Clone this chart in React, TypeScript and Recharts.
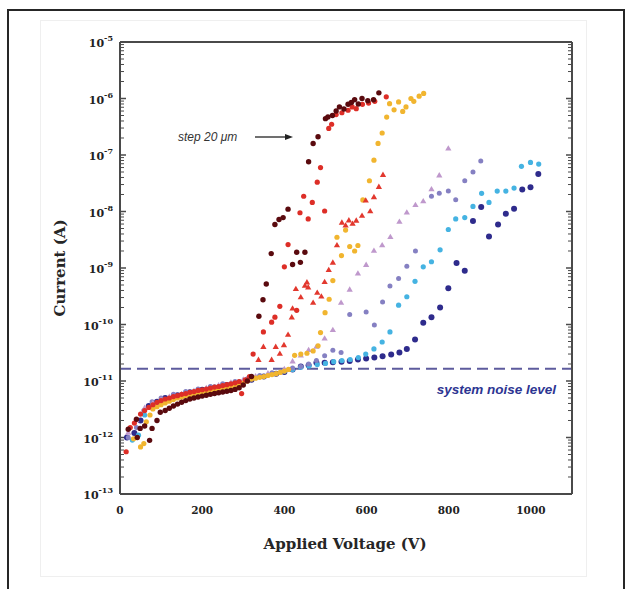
import React from 'react'
import { ScatterChart, Scatter, XAxis, YAxis, ReferenceLine } from 'recharts'

// step 20 um, dark red
const maroonV = [20, 40, 42, 49, 60, 72, 78, 90, 98, 110, 120, 130, 140, 150, 160, 170, 180, 190, 200, 210, 220, 230, 240, 250, 260, 270, 280, 290, 300, 310, 320, 338, 348, 356, 368, 377, 387, 397, 409, 420, 430, 439, 450, 459, 470, 482, 500, 506, 517, 526, 534, 545, 555, 563, 571, 580, 589, 603, 617, 630]
const maroonI = [1.4e-12, 2.1e-12, 1.0e-12, 1.45e-12, 1.6e-12, 8.9e-13, 1.45e-12, 2.0e-12, 2.8e-12,
    3.0e-12, 3.3e-12, 3.6e-12, 3.9e-12, 4.2e-12, 4.5e-12, 4.8e-12, 5.0e-12, 5.2e-12, 5.4e-12, 5.6e-12, 5.8e-12, 6.0e-12, 6.2e-12, 6.4e-12, 6.6e-12, 6.8e-12, 7.1e-12, 7.6e-12, 8.5e-12, 1.0e-11, 1.2e-11,
    1.4e-10, 2.75e-10, 5.2e-10, 1.8e-9, 5.9e-9, 7.2e-9, 7.8e-9, 1.1e-8,
    1.15e-9, 1.9e-9, 1.26e-9, 1.9e-9,
    7.6e-8, 1.6e-7, 2.1e-7,
    4.4e-7, 4.7e-7, 5.0e-7, 6.0e-7, 7.1e-7, 6.5e-7, 7.9e-7, 8.5e-7, 9.5e-7, 8.0e-7, 1.0e-6, 9.1e-7, 9.5e-7, 1.26e-6]

const redFastV = [15, 25, 35, 50, 60, 70, 80, 90, 100, 110, 120, 130, 140, 150, 160, 170, 180, 190, 200, 210, 220, 230, 240, 250, 260, 270, 280, 290, 296, 305, 315, 324, 349, 369, 377, 389, 400, 409, 430, 438, 447, 458, 468, 480, 488, 498, 508, 515, 526, 540, 555, 565, 575, 590, 605, 620, 648]
const redFastI = [5.6e-13, 1.5e-12, 1.8e-12,
    2.6e-12, 3.0e-12, 3.4e-12, 3.8e-12, 4.2e-12, 4.5e-12, 4.8e-12, 5.0e-12, 5.3e-12, 5.5e-12, 5.8e-12, 6.0e-12, 6.3e-12, 6.5e-12, 6.8e-12, 7.0e-12, 7.2e-12, 7.5e-12, 7.8e-12, 8.0e-12, 8.3e-12, 8.6e-12, 8.9e-12, 9.3e-12, 9.8e-12,
    6.0e-12, 1.05e-11, 1.2e-11,
    3.0e-11, 7.4e-11, 1.1e-10, 1.35e-10, 2.1e-10,
    1.05e-9, 2.6e-9, 1.78e-10, 9.5e-9, 1.86e-8, 7.4e-9, 1.45e-8, 3.3e-8, 6.0e-8, 1.02e-8,
    2.95e-7, 3.5e-7, 5.2e-7, 5.6e-7, 6.2e-7, 7.1e-7, 6.6e-7, 7.9e-7, 8.3e-7, 8.9e-7, 1.07e-6]

const redSlowV = [337, 349, 369, 379, 389, 399, 409, 418, 420, 428, 440, 450, 455, 458, 470, 480, 490, 498, 508, 518, 528, 540, 549, 557, 566, 575, 589, 598, 609, 618, 630, 640]
const redSlowI = [2.34e-11, 3.98e-11, 2.34e-11, 3.98e-11, 3.0e-11, 4.27e-11, 6.5e-11, 1.32e-10, 1.9e-10, 4.2e-10, 3.0e-10, 4.8e-10, 5.5e-10, 4.5e-10, 2.4e-10, 3.6e-10, 3.1e-10, 5.6e-10, 9.1e-10, 1.23e-9, 2.5e-9, 6.3e-9, 5.6e-9, 6.9e-9, 6.0e-9, 6.8e-9, 8.3e-9, 1.55e-8, 1.0e-8, 1.78e-8, 2.7e-8, 4.4e-8]

const yellowV = [33, 50, 58, 64, 73, 80, 90, 100, 110, 120, 130, 140, 150, 160, 170, 180, 190, 200, 210, 220, 230, 240, 250, 260, 270, 280, 290, 300, 310, 320, 330, 340, 350, 360, 370, 380, 390, 400, 410, 425, 440, 455, 470, 482, 488, 499, 509, 518, 528, 539, 549, 559, 571, 579, 591, 607, 618, 628, 638, 649, 656, 667, 678, 688, 696, 708, 715, 728, 739]
const yellowI = [9.5e-13, 6.8e-13, 7.8e-13, 1.9e-12, 2.5e-12,
    3.2e-12, 3.5e-12, 3.8e-12, 4.1e-12, 4.4e-12, 4.7e-12, 5.0e-12, 5.2e-12, 5.5e-12, 5.7e-12, 6.0e-12, 6.2e-12, 6.4e-12, 6.6e-12, 6.8e-12, 7.0e-12, 7.2e-12, 7.5e-12, 7.7e-12, 8.0e-12, 8.3e-12, 8.7e-12, 9.2e-12, 1.0e-11, 1.08e-11, 1.12e-11, 1.16e-11, 1.2e-11, 1.25e-11, 1.3e-11, 1.35e-11, 1.42e-11, 1.5e-11, 1.6e-11,
    2.85e-11, 3.0e-11, 3.1e-11, 3.4e-11, 4.2e-11, 7.2e-11, 1.62e-10, 2.8e-10, 6.0e-10, 3.5e-9, 1.66e-9, 4.7e-9, 2.4e-9, 2.0e-9, 2.5e-9, 1.6e-8, 3.5e-8, 8.1e-8, 1.6e-7, 2.45e-7, 4.7e-7, 8.1e-7, 6.3e-7, 8.7e-7, 5.9e-7, 7.1e-7, 1.0e-6, 8.9e-7, 1.1e-6, 1.23e-6]

const violetV = [20, 40, 60, 80, 100, 120, 150, 180, 210, 240, 270, 300, 330, 360, 400, 420, 440, 459, 478, 498, 518, 538, 559, 579, 599, 618, 638, 658, 680, 698, 719, 738, 758, 777, 799]
const violetI = [1.2e-12, 2.0e-12, 3.3e-12, 4.0e-12, 4.6e-12, 5.2e-12, 5.8e-12, 6.6e-12, 7.4e-12, 8.3e-12, 9.3e-12, 1.05e-11, 1.2e-11, 1.35e-11, 1.6e-11,
    2.2e-11, 2.8e-11, 3.5e-11, 4.0e-11, 5.6e-11, 7.9e-11, 2.4e-10, 4.1e-10, 7.9e-10, 1.12e-9,
    2.0e-9, 2.5e-9, 3.5e-9, 6.5e-9, 9.5e-9, 1.29e-8, 1.5e-8, 2.45e-8, 4.3e-8, 1.29e-7]

const periV = [20, 40, 58, 78, 100, 130, 160, 190, 220, 250, 280, 310, 340, 370, 400, 420, 440, 459, 478, 498, 518, 538, 559, 599, 619, 639, 657, 678, 698, 719, 758, 777, 799, 817, 839, 859, 878]
const periI = [1.0e-12, 1.5e-12, 3.0e-12, 4.3e-12, 5.0e-12, 5.8e-12, 6.5e-12, 7.2e-12, 8.0e-12, 8.9e-12, 9.8e-12, 1.1e-11, 1.25e-11, 1.4e-11, 1.55e-11,
    1.7e-11, 1.8e-11, 2.0e-11, 2.3e-11, 2.8e-11, 3.5e-11, 3.2e-11, 1.5e-10,
    1.66e-10, 9.8e-11, 2.5e-10, 4.8e-10, 6.5e-10, 1.07e-9, 2.0e-9,
    1.86e-8, 2.1e-8, 2.3e-8, 1.62e-8, 3.5e-8, 5.0e-8, 7.8e-8]

const skyV = [30, 45, 60, 80, 100, 130, 160, 190, 220, 250, 280, 310, 340, 370, 400, 420, 440, 460, 480, 500, 520, 540, 560, 580, 598, 618, 638, 657, 678, 698, 718, 738, 758, 779, 799, 817, 839, 859, 880, 898, 918, 939, 959, 977, 999, 1019]
const skyI = [9.0e-13, 1.1e-12, 2.5e-12, 3.8e-12, 4.6e-12, 5.5e-12, 6.3e-12, 7.0e-12, 7.8e-12, 8.6e-12, 9.5e-12, 1.05e-11, 1.2e-11, 1.35e-11, 1.5e-11,
    1.6e-11, 1.75e-11, 1.85e-11, 1.95e-11, 2.05e-11, 2.2e-11, 2.3e-11, 2.4e-11, 2.6e-11,
    3.0e-11, 3.7e-11, 4.9e-11, 7.4e-11, 2.2e-10, 3.1e-10, 5.8e-10, 1.05e-9, 1.29e-9, 2.1e-9,
    4.8e-9, 7.4e-9, 7.8e-9, 1.23e-8, 2.1e-8, 1.45e-8, 2.3e-8, 2.3e-8, 2.6e-8, 6.3e-8, 7.4e-8, 6.9e-8]

const navyV = [17, 35, 50, 70, 90, 110, 140, 170, 200, 230, 260, 290, 320, 350, 380, 400, 420, 440, 459, 478, 498, 518, 539, 559, 579, 599, 619, 639, 660, 680, 698, 718, 738, 758, 779, 799, 819, 839, 859, 879, 898, 920, 939, 959, 979, 999, 1018]
const navyI = [1.0e-12, 1.2e-12, 2.0e-12, 3.6e-12, 4.3e-12, 5.0e-12, 5.6e-12, 6.3e-12, 7.0e-12, 7.7e-12, 8.5e-12, 9.4e-12, 1.05e-11, 1.2e-11, 1.35e-11, 1.45e-11,
    1.6e-11, 1.8e-11, 1.9e-11, 2.1e-11, 2.1e-11, 2.15e-11, 2.2e-11, 2.25e-11, 2.4e-11, 2.5e-11,
    2.6e-11, 2.75e-11, 2.95e-11, 3.2e-11, 3.7e-11, 5.4e-11, 1.07e-10, 1.35e-10, 2.0e-10, 4.4e-10,
    1.23e-9, 8.9e-10, 6.8e-9, 1.2e-8, 3.6e-9, 5.9e-9, 9.1e-9, 1.12e-8, 2.45e-8, 2.7e-8, 4.6e-8]

const noiseLevel = 1.65e-11

const xTicks = [0, 200, 400, 600, 800, 1000]
const yTicks = [1e-13, 1e-12, 1e-11, 1e-10, 1e-9, 1e-8, 1e-7, 1e-6, 1e-5]
const minorSteps = [2, 3, 4, 5, 6, 7, 8, 9]
const yMinor = yTicks.slice(0, -1).flatMap(d => minorSteps.map(m => m * d))

const serif = 'DejaVu Serif'
const axisColor = '#4a4a4a'

const toPoints = (v: number[], i: number[]) => v.map((x, k) => ({ v: x, i: i[k] }))

// marker shapes (ZAxis range is ignored without a z dataKey)
const dot = (r: number) => (p: any) => <circle cx={p.cx} cy={p.cy} r={r} fill={p.fill} />
const tri = (s: number) => (p: any) => (
    <path d={`M${p.cx},${p.cy - s} L${p.cx + s * 0.87},${p.cy + s / 2} L${p.cx - s * 0.87},${p.cy + s / 2} Z`} fill={p.fill} />
)

const NoTick = () => <g />

const YLabel = (p: any) => {
    const exp = Math.round(Math.log10(p.payload.value))
    return (
        <text x={p.x} y={p.y + 5} textAnchor="end" fontFamily={serif} fontWeight="bold" fontSize={11} fill="#222">
            10<tspan dy={-6} fontSize={8}>{exp}</tspan>
        </text>
    )
}

const XLabel = (p: any) => (
    <text x={p.x} y={p.y + 20} textAnchor="middle" fontFamily={serif} fontWeight="bold" fontSize={10.5} fill="#222">
        {p.payload.value}
    </text>
)

export default function App() {
    // axes are 1px wide/high (0 hides them), margins compensate
    const logY = { type: 'number' as const, scale: 'log' as const, domain: [1e-13, 1e-5], allowDataOverflow: true, width: 1, interval: 0 as const }
    const linX = { type: 'number' as const, domain: [0, 1100], allowDataOverflow: true, height: 1, interval: 0 as const }

    return (
        <div style={{ position: 'relative', width: 630, height: 589, overflow: 'hidden', background: '#fff' }}>
            <style>{'body{margin:0;overflow:hidden}'}</style>
            <div style={{ position: 'absolute', left: 7, top: 9, width: 614, height: 600, border: '2px solid #262626' }} />
            <div style={{ position: 'absolute', left: 40, top: 20, width: 545, height: 555, border: '1px solid #efefef' }} />
            <div style={{ position: 'absolute', left: 0, top: 0 }}>
                <ScatterChart width={630} height={589} margin={{ top: 42, right: 58, bottom: 94, left: 119 }}>
                    <XAxis xAxisId="x" dataKey="v" {...linX} ticks={xTicks} tick={XLabel} tickLine={false} tickSize={0} tickMargin={0}
                        axisLine={{ stroke: axisColor, strokeWidth: 2 }} />
                    <XAxis xAxisId="xb" {...linX} ticks={xTicks} mirror tick={NoTick} tickSize={6} axisLine={false}
                        tickLine={{ stroke: axisColor, strokeWidth: 1.5 }} />
                    <XAxis xAxisId="xt" orientation="top" {...linX} ticks={xTicks} mirror tick={NoTick} tickSize={6}
                        axisLine={{ stroke: axisColor, strokeWidth: 2 }} tickLine={{ stroke: axisColor, strokeWidth: 1.5 }} />

                    <YAxis yAxisId="y" dataKey="i" {...logY} ticks={yTicks} tick={YLabel} tickLine={false} tickSize={0} tickMargin={7}
                        axisLine={{ stroke: axisColor, strokeWidth: 2 }} />
                    <YAxis yAxisId="yl" {...logY} ticks={yTicks} mirror tick={NoTick} tickSize={6} axisLine={false}
                        tickLine={{ stroke: axisColor, strokeWidth: 1.5 }} />
                    <YAxis yAxisId="ylm" {...logY} ticks={yMinor} mirror tick={NoTick} tickSize={3} axisLine={false}
                        tickLine={{ stroke: axisColor, strokeWidth: 1 }} />
                    <YAxis yAxisId="yr" orientation="right" {...logY} ticks={yTicks} mirror tick={NoTick} tickSize={6}
                        axisLine={{ stroke: axisColor, strokeWidth: 2 }} tickLine={{ stroke: axisColor, strokeWidth: 1.5 }} />
                    <YAxis yAxisId="yrm" orientation="right" {...logY} ticks={yMinor} mirror tick={NoTick} tickSize={3} axisLine={false}
                        tickLine={{ stroke: axisColor, strokeWidth: 1 }} />

                    <ReferenceLine xAxisId="x" yAxisId="y" y={noiseLevel} stroke="#5d5b9d" strokeWidth={2} strokeDasharray="11 6" />

                    <Scatter xAxisId="x" yAxisId="y" data={toPoints(navyV, navyI)} fill="#2e2b8c" shape={dot(3)} isAnimationActive={false} />
                    <Scatter xAxisId="x" yAxisId="y" data={toPoints(skyV, skyI)} fill="#45b3e2" shape={dot(2.6)} isAnimationActive={false} />
                    <Scatter xAxisId="x" yAxisId="y" data={toPoints(periV, periI)} fill="#8580c2" shape={dot(2.5)} isAnimationActive={false} />
                    <Scatter xAxisId="x" yAxisId="y" data={toPoints(violetV, violetI)} fill="#bf98cc" shape={tri(3.6)} isAnimationActive={false} />
                    <Scatter xAxisId="x" yAxisId="y" data={toPoints(yellowV, yellowI)} fill="#f1b52f" shape={dot(2.6)} isAnimationActive={false} />
                    <Scatter xAxisId="x" yAxisId="y" data={toPoints(redSlowV, redSlowI)} fill="#e2382e" shape={tri(3.6)} isAnimationActive={false} />
                    <Scatter xAxisId="x" yAxisId="y" data={toPoints(redFastV, redFastI)} fill="#dd2e27" shape={dot(2.6)} isAnimationActive={false} />
                    <Scatter xAxisId="x" yAxisId="y" data={toPoints(maroonV, maroonI)} fill="#5a0a0e" shape={dot(2.7)} isAnimationActive={false} />
                </ScatterChart>
            </div>
            <svg width={630} height={589} style={{ position: 'absolute', left: 0, top: 0, pointerEvents: 'none' }}>
                <text x={60} y={268} transform="rotate(-90 60 268)" textAnchor="middle" dominantBaseline="central"
                    fontFamily={serif} fontWeight="bold" fontSize={15} fill="#262626">Current (A)</text>
                <text x={345} y={549} textAnchor="middle" fontFamily={serif} fontWeight="bold" fontSize={15} fill="#262626">Applied Voltage (V)</text>
                <text x={178} y={141} fontFamily="Liberation Sans" fontStyle="italic" fontSize={12} fill="#333">step 20 μm</text>
                <line x1={255} y1={137} x2={287} y2={137} stroke="#222" strokeWidth={1.3} />
                <polygon points="293,137 285,134 285,140" fill="#222" />
                <text x={556} y={394} textAnchor="end" fontFamily="Liberation Sans" fontStyle="italic" fontWeight="bold" fontSize={13.5} fill="#2d3592">system noise level</text>
            </svg>
        </div>
    )
}
